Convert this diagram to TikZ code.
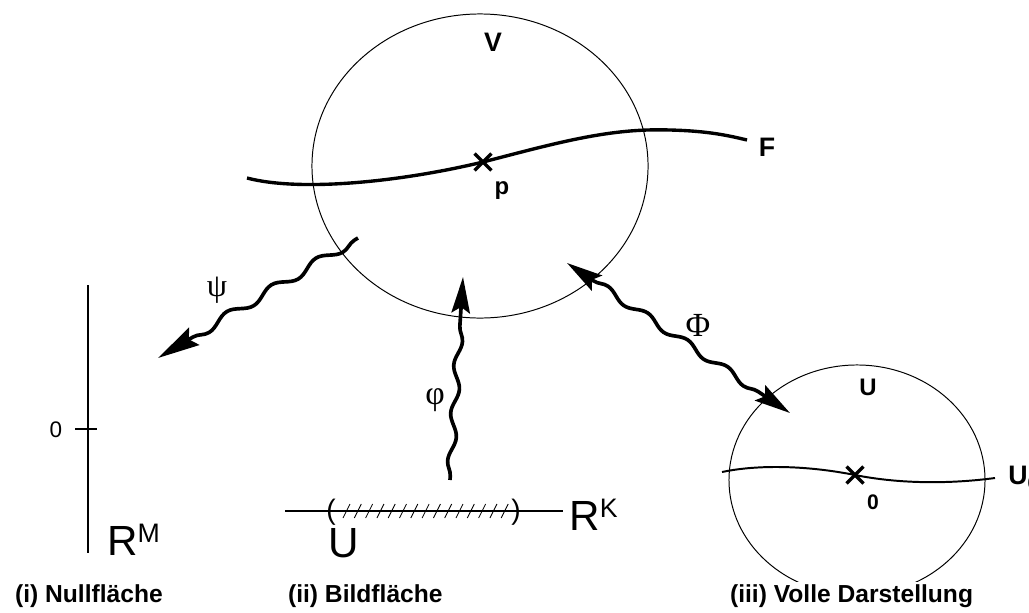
\documentclass[tikz,border=0pt]{standalone}
\usepackage{fontspec}
\setmainfont{Liberation Sans}
\newfontfamily\greekfont{Liberation Serif}
\usetikzlibrary{arrows.meta,decorations.pathmorphing,shapes.misc}

\newcommand{\hochidx}[1]{\raisebox{0.3em}{\fontsize{19}{19}\selectfont #1}}

\begin{document}
\begin{tikzpicture}[x=0.025cm, y=-0.025cm,
    rim/.style={line width=0.7pt},
    curve/.style={line width=2.4pt},
    axis/.style={line width=1.2pt},
    crossmark/.style={cross out, draw, line width=2.4pt, minimum size=0.34cm, inner sep=0pt},
    wavy/.style={line width=2.6pt, decorate, decoration={snake, amplitude=0.9mm, segment length=12mm, pre length=1mm, post length=8mm}},
    tip/.style={-{Stealth[length=9mm, width=4.6mm, inset=1.5mm]}},
    lbl/.style={font=\fontsize{17}{17}\selectfont\bfseries, inner sep=0pt},
    big/.style={font=\fontsize{30}{30}\selectfont, inner sep=0pt},
    greek/.style={font=\greekfont, inner sep=0pt},
    caption/.style={font=\fontsize{17.5}{18}\selectfont\bfseries, anchor=west, inner sep=2pt, fill=white}
  ]
    \useasboundingbox (0,0) rectangle (1029,612);

    \draw[rim] (480,166) ellipse [x radius=4.2cm, y radius=3.8cm];
    \node[lbl, font=\fontsize{19}{19}\selectfont\bfseries] (V) at (493,42) {V};
    \node[crossmark] (p) at (483,162) {};
    \node[lbl] (plabel) at (502,191) {p};
    \coordinate (Fa) at (247,178);
    \coordinate (Fb) at (747,140);
    \draw[curve] (Fa) .. controls (300,192) and (400,182) .. (p.center)
      .. controls (560,142) and (610,128) .. (670,130) .. controls (710,131) and (730,136) .. (Fb);
    \node[lbl, font=\fontsize{19}{19}\selectfont\bfseries] (F) at (767,147) {F};

    \coordinate (Mtop) at (88,285);
    \coordinate (Mbot) at (88,553);
    \coordinate (null) at (88,429);
    \draw[axis] (Mtop) -- (Mbot);
    \draw[axis] ([xshift=-0.32cm]null) -- ([xshift=0.22cm]null);
    \node[font=\fontsize{16}{16}\selectfont, inner sep=0pt] (nulllabel) at (56,430) {0};
    \node[big, anchor=base west] (RM) at (107,555) {R\hochidx{M}};

    \coordinate (Ka) at (285,511);
    \coordinate (Kb) at (563,511);
    \draw[axis] (Ka) -- (Kb);
    \node[font=\fontsize{20}{20}\selectfont, inner sep=0pt] (lpar) at (331,512) {(};
    \node[font=\fontsize{20}{20}\selectfont, inner sep=0pt] (rpar) at (516,512) {)};
    \foreach \i in {0,...,14}
      \draw[line width=0.6pt] (343+11.3*\i,518) -- (350+11.3*\i,504);
    \node[big, anchor=base west] (RK) at (569,530) {R\hochidx{K}};
    \node[big, anchor=base west] (U) at (328,557) {U};

    \draw[rim] (857,480) ellipse [x radius=3.2cm, y radius=2.875cm];
    \node[lbl] (Ulabel) at (868,387) {U};
    \node[crossmark] (o) at (855,475) {};
    \node[lbl, font=\fontsize{15}{15}\selectfont\bfseries] (olabel) at (873,502) {0};
    \coordinate (Ua) at (722,472);
    \coordinate (Ub) at (995,478);
    \draw[line width=1.4pt] (Ua) .. controls (760,464) and (810,466) .. (o.center)
      .. controls (900,484) and (950,484) .. (Ub);
    \node[lbl, font=\fontsize{19}{19}\selectfont\bfseries, anchor=west] (Unull) at (1008,478) {U\textsubscript{0}};

    \coordinate (psiA) at (358,238);
    \coordinate (psiB) at (158,358);
    \draw[wavy, -{Stealth[length=10.5mm, width=5mm, inset=1.5mm]}, decoration={amplitude=1.1mm, segment length=13mm, post length=9mm}] (psiA) -- (psiB);
    \node[greek, font=\fontsize{23}{23}\selectfont\greekfont] (psi) at (217,290) {ψ};

    \coordinate (phiA) at (450,480);
    \coordinate (phiB) at (463,277);
    \draw[wavy, tip] (phiA) -- (phiB);
    \node[greek, font=\fontsize{24}{24}\selectfont\greekfont] (phi) at (435,400) {φ};

    \coordinate (PhiA) at (567,263);
    \coordinate (PhiB) at (790,413);
    \draw[wavy, {Stealth[length=9mm, width=4.6mm, inset=1.5mm]}-{Stealth[length=9mm, width=4.6mm, inset=1.5mm]}, decoration={pre length=8mm}] (PhiA) -- (PhiB);
    \node[greek, font=\fontsize{24}{24}\selectfont\greekfont] (Phi) at (698,325) {Φ};

    \node[caption] (capi) at (12,596) {(i) Nullfläche};
    \node[caption] (capii) at (285,596) {(ii) Bildfläche};
    \node[caption] (capiii) at (727,596) {(iii) Volle Darstellung};
  \end{tikzpicture}
\end{document}
